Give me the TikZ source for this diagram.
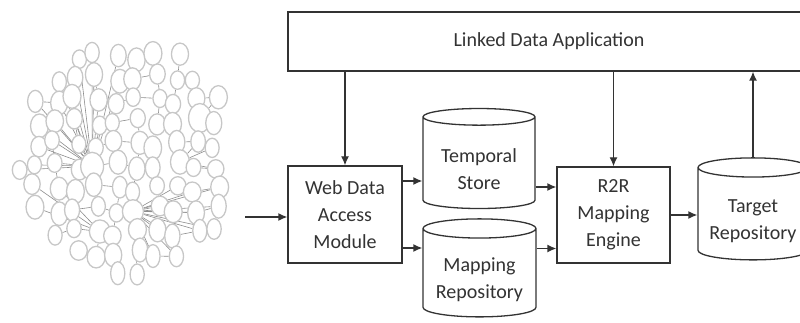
\documentclass[tikz,border=0pt]{standalone}
\usepackage{fontspec}
\setmainfont{Carlito}
\usetikzlibrary{shapes.geometric}
\usetikzlibrary{arrows.meta}
\usetikzlibrary{backgrounds}

\begin{document}
\begin{tikzpicture}[x=1pt, y=-1pt,
    >={Latex[length=9pt,width=8pt]},
    box/.style={draw=black!80, line width=1.3pt, fill=white, text=black!80,
      align=center, font=\fontsize{20}{27}\selectfont, inner sep=0pt},
    store/.style={box, cylinder, shape border rotate=90, aspect=0.22,
      execute at begin node={\rule{0pt}{54pt}}},
    flow/.style={->, draw=black!80, line width=1.3pt},
    blob/.style={ellipse, draw=black!22, line width=1.3pt, fill=white, inner sep=0pt},
    link/.style={draw=black!45, line width=0.6pt}]
  \useasboundingbox (0,0) rectangle (800,323);
  \clip (0,0) rectangle (800,323);

  % Linked Data cloud
  \foreach \i in {0,...,11}{
    \foreach \j in {0,...,11}{
      \pgfmathsetmacro\gx{16+20*\i+4*sin(137*\i+71*\j)}
      \pgfmathsetmacro\gy{34+22*\j+4*cos(113*\i+59*\j)}
      \pgfmathtruncatemacro\keep{((\gx-127)/110)*((\gx-127)/110)+((\gy-157)/120)*((\gy-157)/120)<1}
      \pgfmathtruncatemacro\hub{(\i==4&&\j==6)||(\i==9&&\j==4)||(\i==8&&\j==6)||(\i==6&&\j==8)||(\i==4&&\j==9)}
      \pgfmathsetmacro\gw{16+2*sin(51*\i+97*\j)+5*\hub}
      \pgfmathsetmacro\gh{21+3*cos(43*\i+83*\j)+5*\hub}
      \ifnum\keep=1
        \node[blob, minimum width=\gw pt, minimum height=\gh pt] (g-\i-\j) at (\gx,\gy) {};
      \fi
    }
  }
  \begin{scope}[on background layer]
    \foreach \i in {0,...,11}{
      \foreach \j in {0,...,11}{
        \ifcsname pgf@sh@ns@g-\i-\j\endcsname
          \pgfmathtruncatemacro\hi{\j<7 ? (\i<6 ? 4 : (\j<5 ? 9 : 8)) : (\i<5 ? 4 : 6)}
          \pgfmathtruncatemacro\hj{\j<7 ? (\i<6 ? 6 : (\j<5 ? 4 : 6)) : (\i<5 ? 9 : 8)}
          \pgfmathtruncatemacro\show{(sin(31*\i+17*\j)>-0.3)&&!(\i==\hi&&\j==\hj)}
          \ifnum\show=1 \draw[link] (g-\i-\j) -- (g-\hi-\hj); \fi
          \pgfmathtruncatemacro\ni{\i+1}
          \pgfmathtruncatemacro\nj{\j+1}
          \pgfmathtruncatemacro\side{sin(73*\i+29*\j)>0}
          \ifcsname pgf@sh@ns@g-\ni-\j\endcsname
            \ifnum\side=1 \draw[link] (g-\i-\j) -- (g-\ni-\j); \fi
          \fi
          \ifcsname pgf@sh@ns@g-\i-\nj\endcsname
            \ifnum\side=0 \draw[link] (g-\i-\j) -- (g-\i-\nj); \fi
          \fi
        \fi
      }
    }
  \end{scope}

  % Mapping framework
  \node[box, minimum width=522pt, minimum height=59pt] (app) at (549,41.5) {Linked Data Application};
  \node[box, minimum width=114pt, minimum height=97pt] (web) at (345,214.5) {Web Data\\Access\\Module};
  \node[store, minimum width=112pt, minimum height=100pt] (temp) at (479,163) {Temporal\\Store};
  \node[store, minimum width=113pt, minimum height=98pt] (maprep) at (479.5,273) {Mapping\\Repository};
  \node[box, minimum width=113pt, minimum height=96pt] (r2r) at (613.5,215) {R2R\\Mapping\\Engine};
  \node[store, minimum width=110pt, minimum height=102pt] (target) at (753,214) {Target\\Repository};
  \coordinate (in) at (245,217);

  \draw[flow] (in) -- (in -| web.west);
  \draw[flow] (web.north |- app.south) -- (web.north);
  \draw[flow] (r2r.north |- app.south) -- (r2r.north);
  \draw[flow] (target.north) -- (target.north |- app.south);
  \draw[flow] ([yshift=33.5pt]web.east) -- ([yshift=33.5pt]web.east -| temp.west);
  \draw[flow] ([yshift=-33.5pt]web.east) -- ([yshift=-33.5pt]web.east -| maprep.west);
  \draw[flow] ([yshift=28pt]r2r.west -| temp.east) -- ([yshift=28pt]r2r.west);
  \draw[flow] ([yshift=-33.5pt]r2r.west -| maprep.east) -- ([yshift=-33.5pt]r2r.west);
  \draw[flow] (r2r.east) -- (r2r.east -| target.west);
\end{tikzpicture}
\end{document}
